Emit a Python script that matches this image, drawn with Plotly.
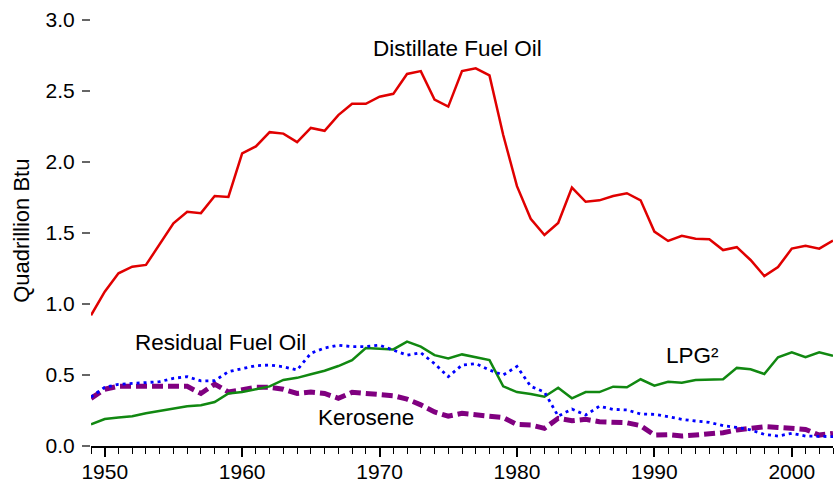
import plotly.graph_objects as go

years = list(range(1949, 2004))

distillate = [0.92, 1.087, 1.216, 1.263, 1.275, 1.42, 1.568, 1.65, 1.64, 1.76,
              1.754, 2.06, 2.11, 2.21, 2.20, 2.14, 2.24, 2.22, 2.33, 2.41,
              2.41, 2.46, 2.48, 2.62, 2.64, 2.44, 2.39, 2.64, 2.66, 2.61,
              2.19, 1.83, 1.60, 1.486, 1.57, 1.82, 1.72, 1.73, 1.76, 1.78,
              1.73, 1.51, 1.444, 1.48, 1.46, 1.456, 1.38, 1.40, 1.31, 1.197,
              1.26, 1.39, 1.41, 1.39, 1.446]

lpg = [0.153, 0.19, 0.20, 0.21, 0.23, 0.246, 0.263, 0.28, 0.287, 0.31,
       0.37, 0.38, 0.40, 0.42, 0.465, 0.48, 0.505, 0.53, 0.563, 0.605,
       0.69, 0.683, 0.68, 0.735, 0.70, 0.64, 0.617, 0.645, 0.625, 0.605,
       0.42, 0.38, 0.366, 0.347, 0.41, 0.336, 0.38, 0.38, 0.418, 0.413,
       0.47, 0.425, 0.452, 0.446, 0.465, 0.465, 0.47, 0.55, 0.54, 0.507,
       0.625, 0.66, 0.625, 0.66, 0.636]

residual = [0.345, 0.413, 0.434, 0.44, 0.449, 0.453, 0.477, 0.488, 0.458, 0.46,
            0.523, 0.547, 0.566, 0.57, 0.558, 0.535, 0.653, 0.69, 0.71, 0.70,
            0.70, 0.71, 0.676, 0.64, 0.657, 0.58, 0.488, 0.57, 0.58, 0.535,
            0.50, 0.56, 0.42, 0.38, 0.21, 0.26, 0.218, 0.28, 0.258, 0.254,
            0.225, 0.223, 0.207, 0.188, 0.176, 0.167, 0.143, 0.131, 0.113, 0.082,
            0.07, 0.089, 0.07, 0.066, 0.066]

kerosene = [0.336, 0.40, 0.42, 0.42, 0.413, 0.418, 0.418, 0.42, 0.37, 0.436,
            0.38, 0.394, 0.413, 0.413, 0.40, 0.37, 0.38, 0.37, 0.336, 0.378,
            0.37, 0.366, 0.354, 0.33, 0.29, 0.24, 0.21, 0.23, 0.218, 0.207,
            0.20, 0.152, 0.148, 0.124, 0.195, 0.178, 0.188, 0.171, 0.164, 0.164,
            0.143, 0.077, 0.08, 0.07, 0.077, 0.085, 0.094, 0.113, 0.124, 0.136,
            0.131, 0.124, 0.117, 0.077, 0.089]

x_ticks = [1950, 1960, 1970, 1980, 1990, 2000]
y_ticks = [0.0, 0.5, 1.0, 1.5, 2.0, 2.5, 3.0]
y_tick_text = ["0.0", "0.5", "1.0", "1.5", "2.0", "2.5", "3.0"]

fig = go.Figure()
fig.add_trace(go.Scatter(x=years, y=kerosene, mode="lines",
                         line=dict(color="#800080", width=5, dash="11px,5px")))
fig.add_trace(go.Scatter(x=years, y=lpg, mode="lines",
                         line=dict(color="#118811", width=2.5)))
fig.add_trace(go.Scatter(x=years, y=residual, mode="lines",
                         line=dict(color="#0000ff", width=2.8, dash="3px,4px")))
fig.add_trace(go.Scatter(x=years, y=distillate, mode="lines",
                         line=dict(color="#e00000", width=2.5)))

FAM = "Liberation Sans, Arial, sans-serif"
font = dict(family=FAM, size=21, color="black")
ann_font = dict(family=FAM, size=22.5, color="black")

annotations = [
    dict(text="Distillate Fuel Oil", x=1975.7, y=2.80, xref="x", yref="y", showarrow=False, font=ann_font),
    dict(text="Residual Fuel Oil", x=1958.4, y=0.73, xref="x", yref="y", showarrow=False, font=ann_font),
    dict(text="Kerosene", x=1969.0, y=0.204, xref="x", yref="y", showarrow=False, font=ann_font),
    dict(text="LPG²", x=1992.8, y=0.634, xref="x", yref="y", showarrow=False, font=ann_font),
    dict(text="Quadrillion Btu", x=-0.093, y=0.505, xref="paper", yref="paper",
         textangle=-90, showarrow=False, xanchor="center", yanchor="middle",
         font=dict(family=FAM, size=22, color="black")),
]

fig.update_layout(
    template="none",
    width=835, height=484,
    margin=dict(l=91, r=2, t=20, b=38, autoexpand=False),
    paper_bgcolor="white", plot_bgcolor="white",
    showlegend=False,
    font=font,
    annotations=annotations,
    xaxis=dict(range=[1949, 2003], tickmode="array", tickvals=x_ticks, automargin=False,
               ticks="outside", ticklen=9, tickwidth=1.5, tickcolor="black",
               ticklabelstandoff=-3,
               showline=True, linecolor="black", linewidth=2, showgrid=False, zeroline=False,
               minor=dict(dtick=1, tick0=1949, ticks="outside", ticklen=6, tickwidth=1.2,
                          tickcolor="black", showgrid=False),
               tickfont=font),
    yaxis=dict(range=[0, 3.0], tickvals=y_ticks, ticktext=y_tick_text, automargin=False,
               ticks="outside", ticklen=8, tickwidth=1.5, tickcolor="#666666",
               ticklabelstandoff=3,
               showline=False, showgrid=False, zeroline=False, tickfont=font),
)

fig.write_html("out.html", config={"displayModeBar": False},
               post_script="document.body.style.margin='0';document.body.style.overflow='hidden';")
